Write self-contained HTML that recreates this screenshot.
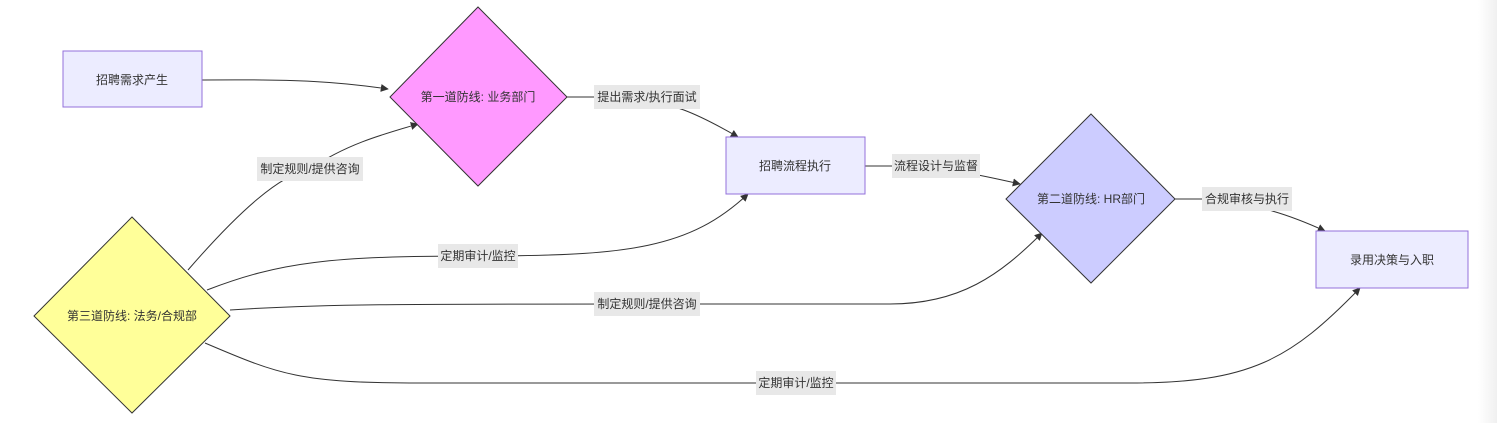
<!DOCTYPE html>
<html><head><meta charset="utf-8"><style>
body{margin:0;background:#fff;}
svg text{font-family:"Liberation Sans","Noto Sans CJK SC",sans-serif;font-size:12px;fill:#333;}
</style></head><body>
<svg width="1497" height="423" viewBox="0 0 1497 423" xmlns="http://www.w3.org/2000/svg">
<defs>
<marker id="a" viewBox="0 0 10 10" refX="9" refY="5" markerWidth="8" markerHeight="8" orient="auto-start-reverse">
<path d="M0,0L10,5L0,10z" fill="#333"/></marker>
<linearGradient id="g" x1="0" x2="1"><stop offset="0" stop-color="#fff"/><stop offset="1" stop-color="#f0f0f0"/></linearGradient>
</defs>
<rect x="1478" y="0" width="19" height="423" fill="url(#g)"/>
<g fill="none" stroke="#333" stroke-width="1">
<path d="M202,80 C300,79 340,82 388,89" marker-end="url(#a)"/>
<path d="M567,97 L620,97 C670,100 700,115 738,137" marker-end="url(#a)"/>
<path d="M865,166 L900,166 C950,168 980,175 1020,184" marker-end="url(#a)"/>
<path d="M1175,199 L1210,199 C1260,205 1290,215 1325,231" marker-end="url(#a)"/>
<path d="M188,270 C240,210 280,175 310,169 C345,145 380,135 418,124" marker-end="url(#a)"/>
<path d="M207,290 C280,262 330,256 478,256 C630,256 690,248 748,194" marker-end="url(#a)"/>
<path d="M230,310 C320,304 400,304 645,304 L890,304 C960,304 1000,275 1042,233" marker-end="url(#a)"/>
<path d="M205,343 C280,375 300,383 420,383 L1130,383 C1250,383 1290,360 1360,288" marker-end="url(#a)"/>
</g>
<rect x="63" y="51" width="139" height="56" fill="#ECECFF" stroke="#9370DB"/>
<rect x="726" y="137" width="139" height="57" fill="#ECECFF" stroke="#9370DB"/>
<rect x="1316" y="231" width="152" height="57" fill="#ECECFF" stroke="#9370DB"/>
<polygon points="478,7 567,97 478,186 390,97" fill="#FF99FF" stroke="#333"/>
<polygon points="1091,114 1175,199 1091,283 1006,199" fill="#CCCCFF" stroke="#333"/>
<polygon points="132,217 230,316 132,413 34,316" fill="#FFFF99" stroke="#333"/>
<g fill="#e8e8e8">
<rect x="594" y="85" width="106" height="24"/>
<rect x="257" y="157" width="106" height="24"/>
<rect x="438" y="244" width="80" height="24"/>
<rect x="594" y="292" width="106" height="24"/>
<rect x="756" y="371" width="80" height="24"/>
<rect x="892" y="154" width="88" height="24"/>
<rect x="1202" y="187" width="90" height="24"/>
</g>
<g text-anchor="middle" dominant-baseline="central">
<text x="132" y="80">招聘需求产生</text>
<text x="795" y="166">招聘流程执行</text>
<text x="1392" y="260">录用决策与入职</text>
<text x="478" y="97">第一道防线: 业务部门</text>
<text x="1091" y="199">第二道防线: HR部门</text>
<text x="132" y="316">第三道防线: 法务/合规部</text>
<text x="647" y="97">提出需求/执行面试</text>
<text x="310" y="169">制定规则/提供咨询</text>
<text x="478" y="256">定期审计/监控</text>
<text x="647" y="304">制定规则/提供咨询</text>
<text x="796" y="383">定期审计/监控</text>
<text x="936" y="166">流程设计与监督</text>
<text x="1247" y="199">合规审核与执行</text>
</g>
</svg>
</body></html>
